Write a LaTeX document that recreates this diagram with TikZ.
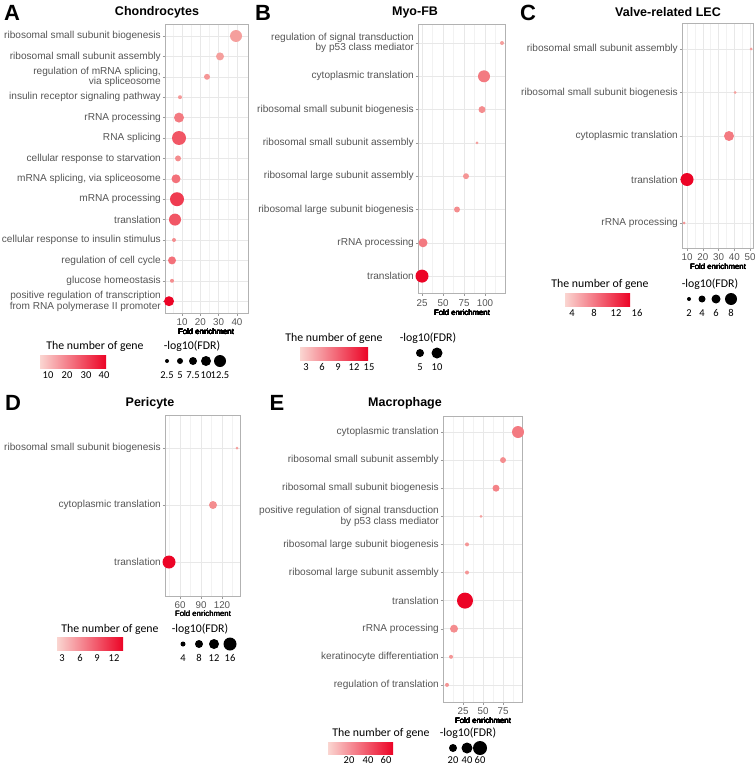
\documentclass[tikz,border=0pt]{standalone}
\usepackage{fontspec}
\setmainfont{Liberation Sans}
\newfontfamily\legf{Carlito}
\definecolor{lowc}{RGB}{247,186,178}
\definecolor{highc}{RGB}{236,4,38}
\definecolor{labc}{RGB}{85,85,85}
\tikzset{
 lab/.style={anchor=east,font=\fontsize{10.1}{10.5}\selectfont,text=labc,align=right,inner sep=0pt},
 tick/.style={font=\fontsize{9.8}{10}\selectfont,text=labc,inner sep=0pt},
 ttl/.style={font=\bfseries\fontsize{12.5}{13}\selectfont,inner sep=0pt},
 letter/.style={font=\bfseries\fontsize{22}{22}\selectfont,inner sep=0pt},
 xl/.style={font=\fontsize{7.8}{8}\selectfont,inner sep=0pt},
 legt/.style={font=\legf\fontsize{11.8}{12}\selectfont,inner sep=0pt},
 legn/.style={font=\legf\fontsize{10.5}{11}\selectfont,inner sep=0pt},
 grid/.style={draw=black!9,line width=0.5pt},
 mgrid/.style={draw=black!5,line width=0.3pt},
 frame/.style={draw=black!30,line width=0.6pt},
}
\newcommand{\dotp}[4]{\pgfmathsetmacro\tt{#4}\fill[highc!\tt!lowc] (#1,#2) circle (#3);}
\newcommand{\gbar}[4]{\shade[left color=lowc!60!white,right color=highc] (#1,#2) rectangle (#3,#4);}
\begin{document}
\begin{tikzpicture}[x=1pt,y=-1pt]
\useasboundingbox (0,0) rectangle (755,765);
% ===== A =====
\node[letter] at (12,13) {A};
\node[ttl] at (157,12) {Chondrocytes};
\foreach \v in {5,15,25,35} \draw[mgrid] ({182+(\v-10)*1.833},24) -- ++(0,289);
\foreach \v in {10,20,30,40} {\draw[grid] ({182+(\v-10)*1.833},24) -- ++(0,289);
  \draw[black!40] ({182+(\v-10)*1.833},313) -- ++(0,2.5);
  \node[tick] at ({182+(\v-10)*1.833},322) {\v};}
\foreach \i/\t in {0/ribosomal small subunit biogenesis,1/ribosomal small subunit assembly,2/{regulation of mRNA splicing,\\via spliceosome},3/insulin receptor signaling pathway,4/rRNA processing,5/RNA splicing,6/cellular response to starvation,7/{mRNA splicing, via spliceosome},8/mRNA processing,9/translation,10/cellular response to insulin stimulus,11/regulation of cell cycle,12/glucose homeostasis,13/{positive regulation of transcription\\from RNA polymerase II promoter}} {
  \draw[grid] (165,{36+\i*20.4}) -- (248,{36+\i*20.4});
  \draw[black!40] (162.5,{36+\i*20.4}) -- (165,{36+\i*20.4});
  \node[lab] at (161,{36+\i*20.4}) {\t};}
\draw[frame] (165,24) rectangle (248,313);
\foreach \x/\i/\r/\c in {236/0/6/15,220/1/4/15,207/2/3/20,180/3/2/18,179/4/5/35,179/5/7/55,178/6/3/25,176/7/4.5/40,177/8/7/70,175/9/6/55,174/10/2/25,172/11/4/40,172/12/2/25,169/13/5/100}
  \dotp{\x}{36+\i*20.4}{\r}{\c}
\node[xl] at (206,332) {Fold enrichment};
\node[legt] at (95,346) {The number of gene};
\gbar{40}{355}{106}{368}
\foreach \v/\x in {10/48,20/67,30/86,40/104} \node[legn] at (\x,375) {\v};
\node[legt] at (192,346) {-log10(FDR)};
\foreach \x/\r/\l in {167/2/2.5,180/3/5,193/4/7.5,206/5/10,220/6/12.5} {\fill (\x,361) circle (\r); \node[legn] at (\x,375) {\l};}
% ===== B =====
\node[letter] at (263,13) {B};
\node[ttl] at (415,12) {Myo-FB};
\foreach \v in {37.5,62.5,87.5,112.5} \draw[mgrid] ({422+(\v-25)*0.84},24) -- ++(0,269);
\foreach \v in {25,50,75,100} {\draw[grid] ({422+(\v-25)*0.84},24) -- ++(0,269);
  \draw[black!40] ({422+(\v-25)*0.84},293) -- ++(0,2.5);
  \node[tick] at ({422+(\v-25)*0.84},303) {\v};}
\foreach \i/\t in {0/{regulation of signal transduction\\by p53 class mediator},1/cytoplasmic translation,2/ribosomal small subunit biogenesis,3/ribosomal small subunit assembly,4/ribosomal large subunit assembly,5/ribosomal large subunit biogenesis,6/rRNA processing,7/translation} {
  \draw[grid] (418,{43+\i*33.3}) -- (505,{43+\i*33.3});
  \draw[black!40] (415.5,{43+\i*33.3}) -- (418,{43+\i*33.3});
  \node[lab] at (414,{43+\i*33.3}) {\t};}
\draw[frame] (418,24) rectangle (505,293);
\foreach \x/\i/\r/\c in {502/0/2/15,484/1/6/35,482/2/3.5/25,477/3/1.5/15,466/4/3/20,457/5/3/25,423/6/4.5/35,422/7/6.5/100}
  \dotp{\x}{43+\i*33.3}{\r}{\c}
\node[xl] at (462,313) {Fold enrichment};
\node[legt] at (334,338) {The number of gene};
\gbar{300}{347}{368}{360}
\foreach \v/\x in {3/306,6/322,9/338,12/354,15/369} \node[legn] at (\x,367) {\v};
\node[legt] at (428,338) {-log10(FDR)};
\foreach \x/\r/\l in {420/4/5,437/5.5/10} {\fill (\x,353) circle (\r); \node[legn] at (\x,367) {\l};}
% ===== C =====
\node[letter] at (528,13) {C};
\node[ttl] at (668,12) {Valve-related LEC};
\foreach \v in {15,25,35,45} \draw[mgrid] ({687+(\v-10)*1.575},23) -- ++(0,225);
\foreach \v in {10,20,30,40,50} {\draw[grid] ({687+(\v-10)*1.575},23) -- ++(0,225);
  \draw[black!40] ({687+(\v-10)*1.575},248) -- ++(0,2.5);
  \node[tick] at ({687+(\v-10)*1.575},257) {\v};}
\foreach \i/\t in {0/ribosomal small subunit assembly,1/ribosomal small subunit biogenesis,2/cytoplasmic translation,3/translation,4/rRNA processing} {
  \draw[grid] (682,{49+\i*43.5}) -- (753,{49+\i*43.5});
  \draw[black!40] (679.5,{49+\i*43.5}) -- (682,{49+\i*43.5});
  \node[lab] at (678,{49+\i*43.5}) {\t};}
\draw[frame] (682,23) rectangle (753,248);
\foreach \x/\i/\r/\c in {751/0/1.5/15,735/1/1.5/15,729/2/5/35,687/3/6.5/100,684/4/1.5/20}
  \dotp{\x}{49+\i*43.5}{\r}{\c}
\node[xl] at (718,267) {Fold enrichment};
\node[legt] at (600,284) {The number of gene};
\gbar{565}{293}{630}{306}
\foreach \v/\x in {4/572,8/594,12/616,16/637} \node[legn] at (\x,313) {\v};
\node[legt] at (710,284) {-log10(FDR)};
\foreach \x/\r/\l in {689/2/2,702/3.5/4,716/4.5/6,731/6/8} {\fill (\x,299) circle (\r); \node[legn] at (\x,313) {\l};}
% ===== D =====
\node[letter] at (13,403) {D};
\node[ttl] at (150,403) {Pericyte};
\foreach \v in {45,75,105,135} \draw[mgrid] ({180+(\v-60)*0.7},415) -- ++(0,181);
\foreach \v in {60,90,120} {\draw[grid] ({180+(\v-60)*0.7},415) -- ++(0,181);
  \draw[black!40] ({180+(\v-60)*0.7},596) -- ++(0,2.5);
  \node[tick] at ({180+(\v-60)*0.7},605) {\v};}
\foreach \i/\t in {0/ribosomal small subunit biogenesis,1/cytoplasmic translation,2/translation} {
  \draw[grid] (165,{448+\i*57}) -- (240,{448+\i*57});
  \draw[black!40] (162.5,{448+\i*57}) -- (165,{448+\i*57});
  \node[lab] at (161,{448+\i*57}) {\t};}
\draw[frame] (165,415) rectangle (240,596);
\foreach \x/\i/\r/\c in {237/0/1.5/15,213/1/4/25,169/2/6.5/100}
  \dotp{\x}{448+\i*57}{\r}{\c}
\node[xl] at (203,614) {Fold enrichment};
\node[legt] at (110,629) {The number of gene};
\gbar{57}{637}{123}{650}
\foreach \v/\x in {3/62,6/80,9/97,12/114} \node[legn] at (\x,658) {\v};
\node[legt] at (200,629) {-log10(FDR)};
\foreach \x/\r/\l in {183/2.5/4,199/4/8,214/5/12,230/6.5/16} {\fill (\x,644) circle (\r); \node[legn] at (\x,658) {\l};}
% ===== E =====
\node[letter] at (277,403) {E};
\node[ttl] at (405,403) {Macrophage};
\foreach \v in {12.5,37.5,62.5,87.5} \draw[mgrid] ({463+(\v-25)*0.8},416) -- ++(0,286);
\foreach \v in {25,50,75} {\draw[grid] ({463+(\v-25)*0.8},416) -- ++(0,286);
  \draw[black!40] ({463+(\v-25)*0.8},702) -- ++(0,2.5);
  \node[tick] at ({463+(\v-25)*0.8},711) {\v};}
\foreach \i/\t in {0/cytoplasmic translation,1/ribosomal small subunit assembly,2/ribosomal small subunit biogenesis,3/{positive regulation of signal transduction\\by p53 class mediator},4/ribosomal large subunit biogenesis,5/ribosomal large subunit assembly,6/translation,7/rRNA processing,8/keratinocyte differentiation,9/regulation of translation} {
  \draw[grid] (443,{432+\i*28.1}) -- (522,{432+\i*28.1});
  \draw[black!40] (440.5,{432+\i*28.1}) -- (443,{432+\i*28.1});
  \node[lab] at (439,{432+\i*28.1}) {\t};}
\draw[frame] (443,416) rectangle (522,702);
\foreach \x/\i/\r/\c in {518/0/6/35,503/1/3/25,496/2/3.5/30,481/3/1.5/15,467/4/2/20,467/5/2/20,465/6/8/100,454/7/4/25,451/8/2/20,447/9/2/20}
  \dotp{\x}{432+\i*28.1}{\r}{\c}
\node[xl] at (483,721) {Fold enrichment};
\node[legt] at (381,733) {The number of gene};
\gbar{328}{742}{393}{754}
\foreach \v/\x in {20/349,40/368,60/386} \node[legn,anchor=base] at (\x,763) {\v};
\node[legt] at (468,733) {-log10(FDR)};
\foreach \x/\r/\l in {453/4/20,467/5.5/40,480/7/60} {\fill (\x,748) circle (\r); \node[legn,anchor=base] at (\x,763) {\l};}
\end{tikzpicture}
\end{document}
